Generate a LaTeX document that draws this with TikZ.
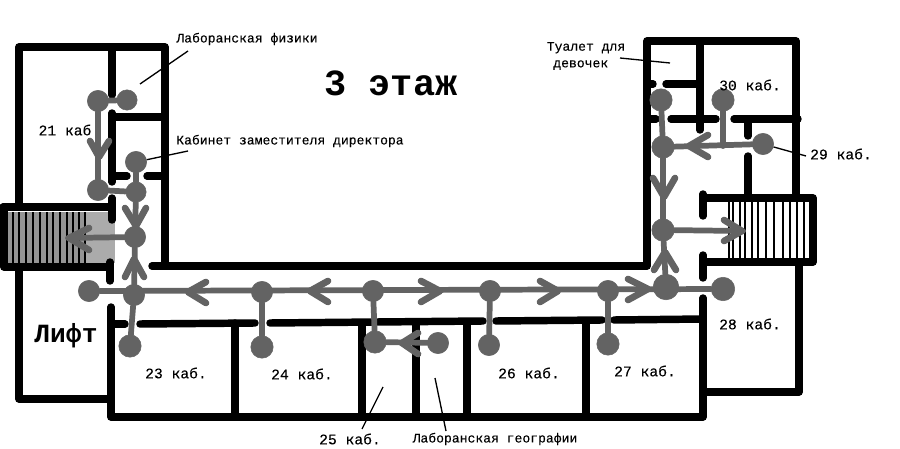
\documentclass[tikz,border=0pt]{standalone}
\usepackage{fontspec}
\setmonofont{Liberation Mono}
\newfontfamily\labelfont[FakeBold=0.15]{Liberation Mono}
\definecolor{routegray}{HTML}{636363}
\tikzset{
  x=0.75pt,y=-0.75pt,
  wall/.style={line width=5.6pt,line cap=round,line join=round,black},
  tread/.style={line width=0.85pt,black},
  route/.style={line width=4.3pt,draw=routegray,line cap=round,line join=round},
  chevron/.style={line width=5pt,draw=routegray,line cap=round,line join=round},
  stop/.style={circle,fill=routegray,draw=routegray,inner sep=0pt,minimum size=#1*0.8pt},
  stop/.default=20,
  leader/.style={line width=1pt,black},
  small/.style={font=\labelfont\fontsize{9.8}{11.5}\selectfont,align=center,inner sep=0pt},
  room/.style={font=\labelfont\fontsize{11}{13}\selectfont,inner sep=0pt},
}
\begin{document}
\begin{tikzpicture}
\useasboundingbox (0,0) rectangle (900,449);
\fill[white] (0,0) rectangle (900,449);
% stairs
\fill[black!33] (8,212) rectangle (115,263);
\fill[black!42] (8,212) rectangle (85,263);
\foreach \s in {13,19,26,33,40,47,53,60,67,73,79,85}
  \draw[tread] (\s,212) -- (\s,264);
\foreach \s in {729,733,740,745,752,758,766,774,783,790,797,804}
  \draw[tread] (\s,202) -- (\s,258);
% walls, left wing
\draw[wall] (19,205) -- (19,47) -- (165,47) -- (165,266);
\draw[wall] (112,47) -- (112,95);
\draw[wall] (112,113) -- (112,182);
\draw[wall] (112,198) -- (112,220);
\draw[wall] (112,117) -- (165,117);
\draw[wall] (112,176) -- (127,176);
\draw[wall] (147,176) -- (165,176);
\draw[wall] (3,207) -- (112,207);
\draw[wall] (4,207) -- (4,267) -- (110,267);
\draw[wall] (110,262) -- (110,281);
\draw[wall] (19,267) -- (19,399) -- (110,399);
% walls, lower block
\draw[wall] (111,307) -- (111,417) -- (703,417) -- (703,298);
\draw[wall] (111,324) -- (125,324);
\draw[wall] (140,324) -- (255,323);
\draw[wall] (270,323) -- (483,321);
\draw[wall] (496,321) -- (602,320);
\draw[wall] (614,320) -- (703,319);
\foreach \s in {235,362,416,467,586}
  \draw[wall] (\s,323) -- (\s,417);
% corridor and right wing
\draw[wall] (152,266) -- (647,266) -- (647,41) -- (796,41) -- (796,197);
\draw[wall] (700,41) -- (700,130);
\draw[wall] (666,84) -- (700,84);
\draw[wall] (647,84) -- (653,84);
\draw[wall] (647,119) -- (656,119);
\draw[wall] (671,119) -- (716,119);
\draw[wall] (734,119) -- (798,119);
\draw[wall] (748,119) -- (748,136);
\draw[wall] (748,156) -- (748,197);
\draw[wall] (703,198) -- (813,198) -- (813,262) -- (703,262);
\draw[wall] (703,194) -- (703,216);
\draw[wall] (703,255) -- (703,278);
\draw[wall] (799,262) -- (799,392) -- (705,392);
% stops
\node[stop=20] (a) at (98,101) {};
\node[stop=19] (b) at (127,100) {};
\node[stop=20] (c) at (98,190) {};
\node[stop=20] (d) at (136,162) {};
\node[stop=19] (e) at (136,192) {};
\node[stop=20] (f) at (135,237) {};
\node[stop=20] (g) at (134,295) {};
\node[stop=20] (h) at (89,291) {};
\node[stop=20] (i) at (262,292) {};
\node[stop=20] (j) at (373,291) {};
\node[stop=20] (k) at (490,291) {};
\node[stop=20] (l) at (608,291) {};
\node[stop=24] (m) at (666,287) {};
\node[stop=22] (n) at (723,289) {};
\node[stop=21] (o) at (130,346) {};
\node[stop=21] (p) at (262,347) {};
\node[stop=21] (q) at (375,342) {};
\node[stop=20] (r) at (438,343) {};
\node[stop=20] (s) at (489,345) {};
\node[stop=21] (t) at (608,344) {};
\node[stop=21] (u) at (661,100) {};
\node[stop=21] (v) at (663,147) {};
\node[stop=21] (w) at (663,230) {};
\node[stop=21] (x) at (723,100) {};
\node[stop=20] (y) at (763,144) {};
\coordinate (xdrop) at (723,146);
\coordinate (stairL) at (68,238);
\coordinate (stairR) at (743,231);
% routes
\draw[route] (a) -- (b);
\draw[route] (a) -- (c);
\draw[route] (c) -- (e);
\draw[route] (d) -- (e);
\draw[route] (e) -- (f);
\draw[route] (f) -- (stairL);
\draw[route] (f) -- (g);
\draw[route] (h) -- (n);
\draw[route] (g) -- (o);
\draw[route] (i) -- (p);
\draw[route] (j) -- (q);
\draw[route] (q) -- (r);
\draw[route] (k) -- (s);
\draw[route] (l) -- (t);
\draw[route] (m) -- (w);
\draw[route] (w) -- (v);
\draw[route] (v) -- (u);
\draw[route] (w) -- (stairR);
\draw[route] (y) -- (v);
\draw[route] (x) -- (xdrop);
% arrowheads
\draw[chevron] (90,141) -- (99,157) -- (109,141);
\draw[chevron] (125,208) -- (136,226) -- (146,208);
\draw[chevron] (89,228) -- (69,238) -- (89,250);
\draw[chevron] (125,277) -- (134,259) -- (144,277);
\draw[chevron] (206,282) -- (188,292) -- (206,303);
\draw[chevron] (328,281) -- (310,291) -- (328,302);
\draw[chevron] (421,281) -- (440,291) -- (421,302);
\draw[chevron] (540,281) -- (558,291) -- (540,302);
\draw[chevron] (628,279) -- (648,289) -- (628,300);
\draw[chevron] (418,333) -- (402,343) -- (418,354);
\draw[chevron] (653,178) -- (664,197) -- (675,178);
\draw[chevron] (724,220) -- (742,231) -- (724,241);
\draw[chevron] (654,270) -- (665,252) -- (676,270);
\draw[chevron] (708,135) -- (689,146) -- (708,157);
% texts
\node[font=\ttfamily\bfseries\fontsize{27.7}{30}\selectfont,inner sep=0pt] (title) at (391,83) {3 этаж};
\node[font=\ttfamily\bfseries\fontsize{19.7}{22}\selectfont,inner sep=0pt] (lift) at (66,336) {Лифт};
\node[small] (labphys) at (247,39) {Лаборанская физики};
\node[small] (deputy) at (290,141) {Кабинет заместителя директора};
\node[small] (wc) at (586,56) {Туалет для\\[1pt]девочек\hspace*{0.8em}};
\node[small] (labgeo) at (495,439) {Лаборанская географии};
\node[room] (r21) at (65,130) {21 каб};
\node[room] (r23) at (176,373) {23 каб.};
\node[room] (r24) at (302,374) {24 каб.};
\node[room] (r25) at (350,439) {25 каб.};
\node[room] (r26) at (529,373) {26 каб.};
\node[room] (r27) at (645,371) {27 каб.};
\node[room] (r28) at (750,324) {28 каб.};
\node[room] (r29) at (841,154) {29 каб.};
\node[room] (r30) at (750,85) {30 каб.};
% leaders
\coordinate (inphys) at (140,84);
\coordinate (inwc) at (670,63);
\coordinate (in25) at (383,387);
\coordinate (ingeo) at (435,378);
\coordinate (fromphys) at (188,51);
\coordinate (fromdep) at (188,151);
\coordinate (fromwc) at (620,58);
\coordinate (from29) at (806,156);
\coordinate (from25) at (362,429);
\coordinate (fromgeo) at (446,431);
\draw[leader] (fromphys) -- (inphys);
\draw[leader] (fromdep) -- (d);
\draw[leader] (fromwc) -- (inwc);
\draw[leader] (from29) -- (y);
\draw[leader] (from25) -- (in25);
\draw[leader] (fromgeo) -- (ingeo);
\end{tikzpicture}
\end{document}
